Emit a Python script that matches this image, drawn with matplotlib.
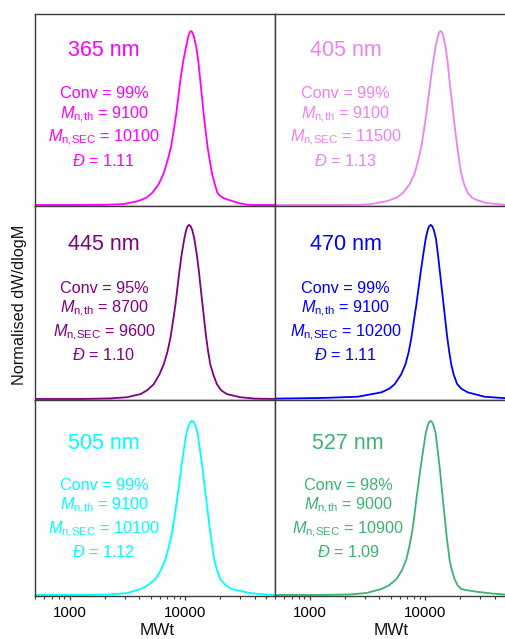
import numpy as np
import matplotlib
matplotlib.use("Agg")
import matplotlib.pyplot as plt
from matplotlib.ticker import LogLocator, NullFormatter, FixedLocator, FixedFormatter

plt.rcParams["font.family"] = ["Liberation Sans", "DejaVu Sans"]
plt.rcParams["mathtext.fontset"] = "custom"
plt.rcParams["mathtext.rm"] = "Liberation Sans"
plt.rcParams["mathtext.it"] = "Liberation Sans:italic"
plt.rcParams["mathtext.bf"] = "Liberation Sans:bold"

# ---- SEC traces: log10(MW) and normalised dW/dlogM ----
logm_365 = [2.70, 3.03, 3.30, 3.466, 3.584, 3.66, 3.713, 3.77, 3.813, 3.848, 3.877, 3.90, 3.922, 3.939,
            3.957, 3.98, 4.006, 4.026, 4.038, 4.049, 4.060, 4.073, 4.095, 4.113, 4.129, 4.144, 4.158,
            4.175, 4.192, 4.21, 4.230, 4.255, 4.278, 4.30, 4.330, 4.37, 4.414, 4.46, 4.532, 4.586, 4.80]
h_365 = [0, 0, 0.001, 0.005, 0.021, 0.040, 0.069, 0.12, 0.183, 0.26, 0.336, 0.43, 0.527, 0.62,
         0.717, 0.82, 0.908, 0.97, 0.992, 1.0, 0.992, 0.97, 0.908, 0.82, 0.717, 0.62, 0.527,
         0.43, 0.336, 0.26, 0.183, 0.12, 0.069, 0.052, 0.040, 0.030, 0.021, 0.011, 0.002, 0, 0]

logm_405 = [2.70, 3.10, 3.40, 3.52, 3.664, 3.75, 3.807, 3.865, 3.908, 3.94, 3.966, 3.988, 4.009, 4.027,
            4.046, 4.067, 4.089, 4.109, 4.121, 4.132, 4.143, 4.155, 4.175, 4.193, 4.209, 4.225, 4.241,
            4.258, 4.276, 4.292, 4.310, 4.335, 4.367, 4.405, 4.44, 4.526, 4.67, 4.80]
h_405 = [0, 0, 0.001, 0.004, 0.021, 0.042, 0.069, 0.12, 0.183, 0.26, 0.336, 0.43, 0.527, 0.62,
         0.717, 0.82, 0.908, 0.97, 0.992, 1.0, 0.992, 0.97, 0.908, 0.82, 0.717, 0.62, 0.527,
         0.43, 0.336, 0.26, 0.183, 0.12, 0.069, 0.042, 0.03, 0.011, 0.002, 0]

logm_445 = [2.70, 3.10, 3.35, 3.497, 3.612, 3.67, 3.727, 3.775, 3.813, 3.845, 3.871, 3.893, 3.914, 3.931,
            3.948, 3.968, 3.991, 4.007, 4.019, 4.032, 4.046, 4.060, 4.078, 4.099, 4.118, 4.133, 4.149,
            4.165, 4.181, 4.198, 4.216, 4.242, 4.273, 4.31, 4.359, 4.474, 4.60, 4.80]
h_445 = [0, 0, 0.003, 0.01, 0.028, 0.05, 0.085, 0.14, 0.199, 0.27, 0.351, 0.445, 0.541, 0.635,
         0.73, 0.83, 0.92, 0.97, 0.992, 1.0, 0.992, 0.97, 0.92, 0.83, 0.73, 0.635, 0.541,
         0.445, 0.351, 0.27, 0.199, 0.14, 0.085, 0.05, 0.028, 0.01, 0.002, 0]

logm_470 = [2.70, 3.13, 3.416, 3.62, 3.69, 3.735, 3.79, 3.828, 3.856, 3.879, 3.90, 3.922, 3.941, 3.96,
            3.982, 4.003, 4.020, 4.033, 4.046, 4.060, 4.074, 4.092, 4.109, 4.126, 4.142, 4.158, 4.174,
            4.19, 4.207, 4.224, 4.245, 4.276, 4.31, 4.367, 4.511, 4.655, 4.80]
h_470 = [0.002, 0.006, 0.013, 0.038, 0.06, 0.085, 0.14, 0.199, 0.27, 0.351, 0.445, 0.541, 0.635, 0.73,
         0.83, 0.92, 0.97, 0.992, 1.0, 0.992, 0.97, 0.92, 0.83, 0.73, 0.635, 0.541, 0.445,
         0.351, 0.27, 0.199, 0.14, 0.085, 0.06, 0.038, 0.013, 0.006, 0.002]

logm_505 = [2.70, 3.10, 3.35, 3.497, 3.612, 3.675, 3.741, 3.79, 3.828, 3.858, 3.885, 3.907, 3.928, 3.947,
            3.966, 3.986, 4.009, 4.027, 4.042, 4.058, 4.074, 4.089, 4.106, 4.127, 4.147, 4.164, 4.181,
            4.199, 4.216, 4.233, 4.25, 4.273, 4.302, 4.35, 4.402, 4.56, 4.70, 4.80]
h_505 = [0, 0, 0.003, 0.011, 0.034, 0.055, 0.091, 0.145, 0.205, 0.28, 0.358, 0.45, 0.548, 0.64,
         0.738, 0.83, 0.928, 0.97, 0.992, 1.0, 0.992, 0.97, 0.928, 0.83, 0.738, 0.64, 0.548,
         0.45, 0.358, 0.28, 0.205, 0.145, 0.091, 0.055, 0.034, 0.011, 0.002, 0]

logm_527 = [2.70, 3.10, 3.35, 3.49, 3.62, 3.685, 3.75, 3.80, 3.836, 3.862, 3.885, 3.904, 3.922, 3.941,
            3.96, 3.981, 4.003, 4.019, 4.032, 4.046, 4.060, 4.073, 4.089, 4.107, 4.123, 4.138, 4.152,
            4.167, 4.181, 4.195, 4.209, 4.228, 4.253, 4.28, 4.31, 4.37, 4.44, 4.58, 4.70, 4.80]
h_527 = [0, 0, 0.003, 0.011, 0.034, 0.055, 0.091, 0.145, 0.205, 0.28, 0.358, 0.45, 0.548, 0.64,
         0.738, 0.83, 0.928, 0.97, 0.992, 1.0, 0.992, 0.97, 0.928, 0.83, 0.738, 0.64, 0.548,
         0.45, 0.358, 0.28, 0.205, 0.145, 0.091, 0.055, 0.034, 0.026, 0.019, 0.008, 0.002, 0]

# ---- panel annotations ----
wavelengths = ["365 nm", "405 nm", "445 nm", "470 nm", "505 nm", "527 nm"]
conversions = [99, 99, 95, 99, 99, 98]
mn_theory = [9100, 9100, 8700, 9100, 9100, 9000]
mn_sec = [10100, 11500, 9600, 10200, 10100, 10900]
dispersity = ["1.11", "1.13", "1.10", "1.11", "1.12", "1.09"]
colors = ["#FF00FF", "#EE82EE", "#800080", "#0000FF", "#00FFFF", "#3CB371"]
traces = [(logm_365, h_365), (logm_405, h_405), (logm_445, h_445),
          (logm_470, h_470), (logm_505, h_505), (logm_527, h_527)]

tick_values = [1000, 10000]
tick_labels = ["1000", "10000"]

W, H = 505, 639
fig = plt.figure(figsize=(W / 100, H / 100), dpi=100)

col_left = [35, 275]
col_width = 240
rows = [(14, 192), (206, 194), (400, 196)]  # (top, height) in pixels
text_x = [0.2875, 0.294, 0.2875, 0.294, 0.2875, 0.305]
# baseline offsets (pixels below the panel top) for the five text lines of each row
text_offsets = [(42, 84.3, 105, 128.3, 151.7),
                (44, 86.7, 106.7, 130.7, 154),
                (49, 90, 110, 133.3, 157.3)]

spine_col = "#3a3a3a"
for i in range(6):
    r, c = divmod(i, 2)
    top, h = rows[r]
    ax = fig.add_axes([col_left[c] / W, (H - top - h) / H, col_width / W, h / H])
    lm, hv = traces[i]
    ax.plot(10 ** np.asarray(lm), hv, color=colors[i], lw=1.3, solid_joinstyle="round")
    ax.set_xscale("log")
    ax.set_xlim(500, 59700)
    ax.set_ylim(-0.006, h / 175.0)
    ax.set_yticks([])
    ax.xaxis.set_major_locator(FixedLocator(tick_values))
    ax.xaxis.set_major_formatter(FixedFormatter(tick_labels))
    ax.xaxis.set_minor_locator(LogLocator(base=10, subs=np.arange(2, 10)))
    ax.xaxis.set_minor_formatter(NullFormatter())
    ax.tick_params(axis="x", which="major", direction="out", length=3.2, width=0.9,
                   color=spine_col, labelsize=10.8, pad=4, labelbottom=(r == 2))
    ax.tick_params(axis="x", which="minor", direction="out", length=2.0, width=0.8, color=spine_col)
    for s in ax.spines.values():
        s.set_color(spine_col)
        s.set_linewidth(1.0)

    offs = text_offsets[r]
    ys = [1 - o / h for o in offs]
    x = text_x[i]
    kw = dict(transform=ax.transAxes, ha="center", va="baseline", color=colors[i])
    ax.text(x, ys[0], wavelengths[i], fontsize=15.5, **kw)
    ax.text(x, ys[1], f"Conv = {conversions[i]}%", fontsize=11.7, **kw)
    ax.text(x, ys[2], r"$M_{\mathrm{n{,}th}}$" + f" = {mn_theory[i]}", fontsize=11.7, **kw)
    ax.text(x, ys[3], r"$M_{\mathrm{n{,}SEC}}$" + f" = {mn_sec[i]}", fontsize=11.7, **kw)
    ax.text(x, ys[4], r"$\mathit{Đ}$" + f" = {dispersity[i]}", fontsize=11.7, **kw)

    if r == 2:
        lx = 0.508 if c == 0 else 0.483
        ax.set_xlabel("MWt", fontsize=12.3, color="#111111")
        ax.xaxis.set_label_coords(lx, -27 / h)
        ax.xaxis.label.set_va("top")

fig.text(19.5 / W, 1 - 305 / H, "Normalised dW/dlogM", rotation=90, ha="center", va="center",
         fontsize=11.7, color="#111111")

fig.savefig("out.png", dpi=100)
